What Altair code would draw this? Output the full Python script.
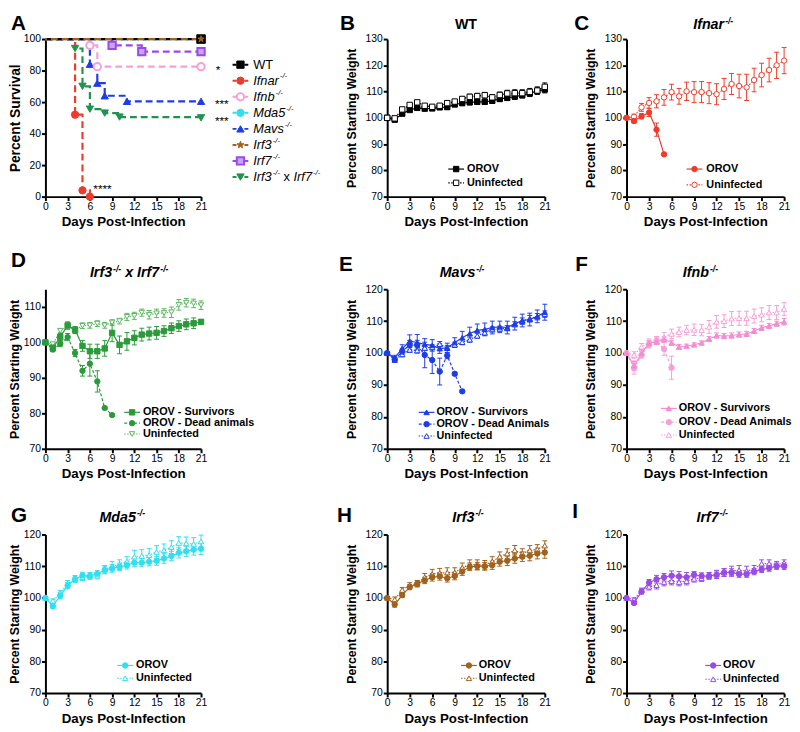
import altair as alt
import pandas as pd

FONT = "Liberation Sans"
DAYS = list(range(22))
X_TICKS = [0, 3, 6, 9, 12, 15, 18, 21]

# ---------------- Panel A : survival ----------------
WT_DAYS = [0, 21]; WT_SURV = [100, 100]
IFNAR_DAYS = [0, 4, 5, 6]; IFNAR_SURV = [100, 52, 4, 0]
IFNB_DAYS = [0, 6, 7, 21]; IFNB_SURV = [100, 96, 82.5, 82.5]
MDA5_DAYS = [0, 21]; MDA5_SURV = [100, 100]
MAVS_DAYS = [0, 6, 7, 8, 11, 21]; MAVS_SURV = [100, 84, 72, 64, 60.5, 60.5]
IRF3_DAYS = [0, 21]; IRF3_SURV = [100, 100]
IRF7_DAYS = [0, 9, 13, 21]; IRF7_SURV = [100, 96, 92, 92]
DKO_DAYS = [0, 4, 5, 6, 8, 10, 21]; DKO_SURV = [100, 94, 70, 55.5, 53, 50.5, 50]

STAR_TEXT = ["*", "***", "***", "****"]
STAR_DAY = [23.3, 23.8, 23.8, 7.7]
STAR_SURV = [82.5, 60.5, 50.0, 7.0]

# ---------------- Weight panels ----------------
B_OROV = [100, 99.3, 101.6, 103.0, 103.8, 103.5, 103.6, 104.0, 104.1, 105.1, 105.6, 105.9, 106.1, 106.1, 106.5, 107.2, 107.6, 108.1, 108.6, 109.3, 110.2, 110.8]
B_OROV_ERR = [0.3, 0.6, 0.6, 0.6, 0.6, 0.7, 0.7, 0.7, 0.7, 0.8, 0.8, 0.9, 0.9, 0.9, 0.9, 1.0, 1.0, 1.0, 1.0, 1.2, 1.2, 1.3]
B_UNINF = [100, 99.8, 103.2, 104.9, 105.9, 104.6, 104.2, 104.6, 105.6, 106.2, 107.2, 108.0, 108.3, 108.6, 107.8, 108.7, 109.3, 109.4, 109.4, 109.9, 110.4, 111.8]
B_UNINF_ERR = [0.3, 0.5, 0.6, 0.6, 0.6, 0.6, 0.7, 0.7, 0.8, 0.8, 0.9, 1.0, 1.0, 1.1, 1.0, 1.1, 1.2, 1.3, 1.3, 1.3, 1.4, 1.5]

C_OROV = [100, 98.8, 100.6, 102.0, 95.5, 86.1]
C_OROV_ERR = [0.3, 0.8, 1.0, 1.5, 2.5, 0.5]
C_UNINF = [100, 100.4, 104.0, 105.7, 106.3, 107.8, 109.8, 108.2, 110.1, 109.8, 109.8, 109.4, 109.0, 111.0, 112.9, 112.1, 111.6, 114.4, 116.3, 118.2, 120.0, 121.8]
C_UNINF_ERR = [0.3, 1.0, 1.5, 2.0, 2.5, 3.0, 3.0, 3.0, 3.5, 4.0, 4.0, 4.0, 4.0, 4.0, 4.0, 4.5, 5.0, 4.5, 4.5, 4.5, 5.0, 5.0]

D_SURV = [100, 98.5, 101.5, 104.8, 103.5, 99.0, 97.5, 97.5, 98.3, 102.7, 99.3, 100.3, 101.3, 102.2, 102.5, 102.7, 103.2, 104.0, 104.6, 105.1, 105.4, 105.8]
D_SURV_ERR = [0.3, 0.8, 1.0, 1.0, 1.0, 1.5, 2.0, 2.0, 2.2, 2.5, 2.5, 2.5, 2.0, 1.8, 1.8, 1.8, 1.5, 1.5, 1.5, 1.5, 1.5, 0.6]
D_DEAD = [100, 98.0, 99.6, 101.5, 97.0, 92.0, 94.0, 89.0, 81.5, 79.5]
D_DEAD_ERR = [0.3, 0.6, 0.8, 1.0, 1.0, 1.5, 3.5, 3.0, 0.4, 0.4]
D_UNINF = [100, 99.5, 103.3, 104.5, 103.5, 104.7, 104.8, 105.3, 104.8, 105.6, 106.0, 107.2, 107.5, 108.4, 107.8, 108.2, 108.3, 108.5, 110.6, 111.2, 111.0, 110.5]
D_UNINF_ERR = [0.3, 0.5, 0.6, 0.8, 0.8, 0.8, 0.8, 0.8, 0.8, 0.8, 0.8, 1.0, 1.0, 1.0, 1.2, 1.2, 1.2, 1.5, 1.5, 1.2, 1.2, 1.2]

E_SURV = [100, 98.5, 101.4, 103.7, 103.3, 102.7, 102.4, 101.4, 101.6, 103.3, 104.8, 106.1, 107.1, 107.4, 108.0, 108.2, 108.0, 109.2, 110.2, 110.5, 111.5, 112.8]
E_SURV_ERR = [0.3, 0.8, 1.2, 2.0, 2.5, 1.8, 1.8, 1.5, 1.5, 1.5, 2.0, 2.0, 2.0, 2.0, 2.0, 1.8, 2.0, 2.0, 2.0, 2.0, 2.0, 2.5]
E_DEAD = [100, 98.0, 100.5, 102.5, 102.5, 99.4, 97.8, 94.2, 99.2, 93.5, 88.0]
E_DEAD_ERR = [0.3, 0.8, 1.0, 1.5, 1.5, 4.0, 4.2, 4.2, 1.0, 0.5, 0.4]
E_UNINF = [100, 97.8, 99.6, 101.0, 100.8, 101.6, 101.8, 102.8, 101.6, 102.6, 103.4, 104.2, 105.4, 106.4, 107.4, 107.6, 107.8, 109.0, 110.0, 110.8, 111.4, 112.2]
E_UNINF_ERR = [0.3, 0.6, 0.8, 0.8, 0.8, 0.8, 0.8, 0.8, 0.8, 0.8, 0.8, 0.8, 0.8, 0.8, 0.8, 0.8, 0.8, 0.8, 1.0, 1.0, 1.0, 1.0]

F_SURV = [100, 96.0, 99.9, 103.1, 103.5, 104.3, 103.2, 101.9, 102.2, 102.6, 103.2, 104.4, 105.5, 105.3, 105.5, 105.8, 106.0, 106.9, 107.9, 108.5, 109.2, 109.8]
F_SURV_ERR = [0.3, 1.5, 1.0, 0.8, 0.8, 0.8, 0.8, 0.8, 0.6, 0.6, 0.6, 0.8, 0.8, 0.8, 0.8, 0.8, 0.8, 0.8, 0.8, 0.8, 0.8, 1.0]
F_DEAD = [100, 95.4, 99.4, 102.6, 103.8, 101.3, 95.4]
F_DEAD_ERR = [0.3, 2.0, 1.0, 1.0, 1.0, 2.0, 3.6]
F_UNINF = [100, 99.4, 102.0, 103.4, 104.0, 104.9, 106.0, 106.6, 107.2, 107.3, 107.2, 108.2, 109.8, 110.0, 110.8, 110.9, 110.9, 111.6, 112.0, 112.7, 112.7, 113.8]
F_UNINF_ERR = [0.3, 1.0, 1.0, 1.0, 1.2, 1.5, 1.5, 1.5, 1.5, 1.8, 1.8, 2.0, 2.0, 2.0, 2.2, 2.2, 2.2, 2.2, 2.2, 2.2, 2.2, 2.0]

G_OROV = [100, 97.4, 100.7, 103.9, 105.9, 107.1, 106.9, 107.6, 108.8, 109.3, 109.8, 110.3, 111.1, 111.1, 111.4, 111.7, 112.4, 113.2, 114.2, 114.7, 115.2, 115.5]
G_OROV_ERR = [0.3, 0.8, 1.0, 1.0, 1.0, 1.0, 1.0, 1.0, 1.2, 1.2, 1.2, 1.2, 1.3, 1.3, 1.3, 1.4, 1.5, 1.5, 1.6, 1.6, 1.7, 1.8]
G_UNINF = [100, 99.1, 101.5, 104.5, 106.0, 106.5, 107.0, 107.0, 109.0, 110.0, 110.5, 111.5, 113.0, 113.2, 113.5, 114.5, 115.0, 116.0, 117.3, 117.2, 117.0, 117.8]
G_UNINF_ERR = [0.3, 0.6, 0.8, 1.0, 1.0, 1.0, 1.0, 1.0, 1.2, 1.5, 1.5, 1.5, 2.0, 2.0, 2.0, 2.0, 2.0, 2.0, 2.0, 2.0, 2.0, 2.0]

H_OROV = [100, 97.9, 100.9, 103.4, 104.5, 105.5, 106.5, 106.8, 106.2, 106.9, 108.3, 109.8, 110.0, 110.0, 110.3, 111.4, 111.7, 112.4, 113.0, 113.3, 114.0, 114.3]
H_OROV_ERR = [0.3, 0.8, 0.8, 0.8, 1.0, 1.0, 1.2, 1.2, 1.2, 1.2, 1.2, 1.2, 1.2, 1.2, 1.3, 1.4, 1.5, 1.5, 1.5, 1.6, 1.7, 1.8]
H_UNINF = [100, 99.5, 102.5, 104.0, 104.5, 106.5, 107.5, 107.8, 108.0, 108.0, 109.5, 110.5, 110.5, 110.3, 111.5, 113.0, 114.0, 115.0, 114.0, 115.0, 115.3, 116.5]
H_UNINF_ERR = [0.3, 0.8, 0.8, 0.8, 1.0, 1.2, 1.5, 1.5, 1.5, 1.5, 1.5, 1.5, 1.5, 1.5, 1.5, 1.5, 1.5, 1.5, 1.5, 1.5, 1.5, 1.5]

I_OROV = [100, 98.4, 102.0, 104.8, 105.9, 106.5, 107.0, 106.8, 106.5, 107.3, 106.9, 106.9, 107.3, 108.0, 108.0, 107.5, 107.5, 108.3, 109.0, 109.4, 110.0, 110.0]
I_OROV_ERR = [0.3, 0.5, 0.8, 1.0, 1.2, 1.2, 1.5, 1.5, 1.5, 1.0, 1.0, 1.0, 1.2, 1.2, 1.2, 1.0, 1.0, 1.0, 1.0, 1.0, 1.0, 1.0]
I_UNINF = [100, 99.5, 102.3, 103.5, 104.0, 105.0, 105.3, 105.0, 105.3, 106.0, 106.2, 107.0, 107.5, 108.0, 108.5, 108.7, 108.5, 109.0, 110.8, 110.8, 110.5, 111.0]
I_UNINF_ERR = [0.3, 0.5, 0.8, 1.0, 1.2, 1.2, 1.2, 1.2, 1.2, 1.0, 1.0, 1.0, 1.2, 1.2, 1.5, 1.5, 1.5, 1.2, 1.2, 1.2, 1.0, 1.0]

# ---------------- colours ----------------
BLACK = "#000000"
RED = "#ee3b2b"
PINK = "#f5a0d9"
PINK_F = "#f28dd2"
CYAN = "#2fe0ee"
BLUE = "#1e3de6"
BROWN = "#a1621d"
PURPLE = "#9a4ae6"
GREEN_A = "#22924f"
GREEN = "#2b9a3b"
GREEN_L = "#5cb860"

STAR_PATH = ("M0,-1L0.235,-0.324L0.951,-0.309L0.38,0.124L0.588,0.809L0,0.4"
             "L-0.588,0.809L-0.38,0.124L-0.951,-0.309L-0.235,-0.324Z")

REG_W = {' ': 278, '-': 333, '/': 278, 'x': 500, 'I': 278, 'f': 278, 'n': 556, 'a': 556,
         'r': 333, 'b': 556, 'M': 833, 'd': 556, '5': 556, 'v': 500, 's': 500, '3': 556,
         '7': 556, 'W': 944, 'T': 611}
BOLD_W = {' ': 278, '-': 333, '/': 278, 'x': 556, 'I': 278, 'f': 333, 'n': 611, 'a': 556,
          'r': 389, 'b': 611, 'M': 833, 'd': 611, '5': 556, 'v': 556, 's': 556, '3': 556,
          '7': 556, 'W': 944, 'T': 611}


def tw(s, size, bold):
    tab = BOLD_W if bold else REG_W
    return sum(tab.get(c, 556) for c in s) * size / 1000.0


def one(v):
    return pd.DataFrame({"t": [v]})


def rich(segments, x, y, size, bold, anchor="center", color="black", sup_scale=0.6):
    items = []
    for text, sup, ital in segments:
        fs = size * sup_scale if sup else size
        lead = len(text) - len(text.lstrip(" "))
        trail = len(text) - len(text.rstrip(" "))
        core = text.strip(" ")
        w = tw(core, fs, bold) + (1.0 if (ital and not sup) else 0.0)
        items.append((core, fs, sup, ital, tw(" " * lead, fs, bold), w, tw(" " * trail, fs, bold)))
    total = sum(a + b + c for (_, _, _, _, a, b, c) in items)
    cx = x - total / 2 if anchor == "center" else x
    out = []
    for core, fs, sup, ital, lw, w, trw in items:
        cx += lw
        yy = y - size * 0.33 if sup else y
        out.append(alt.Chart(one(core)).mark_text(
            align="left", baseline="middle", font=FONT, fontSize=fs,
            fontWeight="bold" if bold else "normal",
            fontStyle="italic" if ital else "normal", color=color
        ).encode(text="t:N", x=alt.value(cx), y=alt.value(yy)))
        cx += w + trw
    return out


def letter(ch, x, y):
    return alt.Chart(one(ch)).mark_text(
        align="left", baseline="top", font=FONT, fontSize=21, fontWeight="bold", color="black"
    ).encode(text="t:N", x=alt.value(x), y=alt.value(y))


def x_axis():
    return alt.Axis(values=X_TICKS, title="Days Post-Infection", labelFlush=False, labelOverlap=False)


def wseries(vals, errs, color, shape, open_, dash, xs, ys, xax, yax, msize=30, lw=1.2):
    days = DAYS[:len(vals)]
    df = pd.DataFrame({"day": days, "v": vals,
                       "lo": [v - e for v, e in zip(vals, errs)],
                       "hi": [v + e for v, e in zip(vals, errs)]})
    base = alt.Chart(df)
    X = alt.X("day:Q", scale=xs, axis=xax)
    Yv = alt.Y("v:Q", scale=ys, axis=yax)
    Ylo = alt.Y("lo:Q", scale=ys, axis=yax)
    Yhi = alt.Y("hi:Q", scale=ys, axis=yax)
    kw = {"color": color, "strokeWidth": lw}
    if dash:
        kw["strokeDash"] = dash
    err = [
        base.mark_rule(color=color, strokeWidth=1).encode(x=X, y=Ylo, y2=alt.Y2("hi:Q")),
        base.mark_tick(color=color, orient="horizontal", size=5, thickness=1, opacity=1).encode(x=X, y=Ylo),
        base.mark_tick(color=color, orient="horizontal", size=5, thickness=1, opacity=1).encode(x=X, y=Yhi),
    ]
    line = [base.mark_line(**kw).encode(x=X, y=Yv)]
    pts = [base.mark_point(shape=shape, filled=True, fill="white" if open_ else color, stroke=color,
                           strokeWidth=1, size=msize, opacity=1).encode(x=X, y=Yv)]
    return err, line, pts


def wlegend(entries, mx, tx, ys, dy):
    out = []
    for (label, color, shape, open_, dash), y in zip(entries, ys):
        y = y + dy
        kw = {"color": color, "strokeWidth": 1.2}
        if dash:
            kw["strokeDash"] = dash
        out.append(alt.Chart(one(label)).mark_rule(**kw).encode(
            x=alt.value(mx - 8), x2=alt.value(mx + 8), y=alt.value(y)))
        out.append(alt.Chart(one(label)).mark_point(
            shape=shape, filled=True, fill="white" if open_ else color, stroke=color,
            strokeWidth=1, size=30, opacity=1).encode(x=alt.value(mx), y=alt.value(y)))
        out.append(alt.Chart(one(label)).mark_text(
            align="left", baseline="middle", font=FONT, fontSize=11, fontWeight="bold", color="black"
        ).encode(text="t:N", x=alt.value(tx), y=alt.value(y)))
    return out


COL1_W = 264
PLOT_W1 = 158
PLOT_W = 160
ROW_H = {1: 160, 2: 169, 3: 161}
ROW_DY = {1: 0, 2: 7, 3: 0}
SOLID = None
DASH = [3, 2]
DOT = [1.5, 1.5]


def weight_panel(col, row, series, legend, ydom, yvals, title_segs, title_xy, let, let_xy,
                 mx, tx, lys):
    dy = ROW_DY[row]
    h = ROW_H[row]
    if col == 1:
        xs = alt.Scale(domain=[0, 21], range=[0, PLOT_W1], nice=False)
        width = COL1_W
        tp = 2
    else:
        xs = alt.Scale(domain=[0, 21], nice=False)
        width = PLOT_W
        tp = 7
    ys = alt.Scale(domain=ydom, range=[h, dy], nice=False)
    xax = x_axis()
    yax = alt.Axis(values=yvals, title="Percent Starting Weight", titlePadding=tp,
                   titleFontSize=12.5, labelFlush=False)
    errs, lines, pts = [], [], []
    for (vals, es, color, shape, open_, dash) in series:
        e, l, p = wseries(vals, es, color, shape, open_, dash, xs, ys, xax, yax)
        errs += e; lines += l; pts += p
    layers = errs + lines + pts
    layers += wlegend(legend, mx, tx, lys, dy)
    layers += rich(title_segs, title_xy[0], title_xy[1] + dy, 14.5, True)
    layers.append(letter(let, let_xy[0], let_xy[1] + dy))
    return alt.layer(*layers).properties(width=width, height=h)


# ---------------- Panel A ----------------
def panel_a():
    xs = alt.Scale(domain=[0, 21], range=[0, PLOT_W1], nice=False)
    ys = alt.Scale(domain=[0, 100], range=[160, 0], nice=False)
    xax = x_axis()
    yax = alt.Axis(values=[0, 20, 40, 60, 80, 100], title="Percent Survival", titlePadding=1,
                   titleFontSize=14, labelFlush=False)
    groups = [
        (DKO_DAYS, DKO_SURV, GREEN_A, "triangle-down", GREEN_A, 1, 55, 0),
        (IRF7_DAYS, IRF7_SURV, PURPLE, "square", "#c9a3f3", 2, 55, 0),
        (MAVS_DAYS, MAVS_SURV, BLUE, "triangle-up", BLUE, 1, 55, 0),
        (IFNB_DAYS, IFNB_SURV, PINK, "circle", "white", 2, 55, 0),
        (IFNAR_DAYS, IFNAR_SURV, RED, "circle", RED, 1, 55, 0),
        (MDA5_DAYS, MDA5_SURV, CYAN, "circle", CYAN, 1, 30, 3),
        (WT_DAYS, WT_SURV, BLACK, "square", BLACK, 1, 75, 0),
        (IRF3_DAYS, IRF3_SURV, BROWN, STAR_PATH, BROWN, 1, 45, 5.5),
    ]
    lines, pts = [], []
    for days, surv, color, shape, fill, sw, size, off in groups:
        df = pd.DataFrame({"day": days, "s": surv})
        X = alt.X("day:Q", scale=xs, axis=xax)
        Y = alt.Y("s:Q", scale=ys, axis=yax)
        lines.append(alt.Chart(df).mark_line(
            interpolate="step-after", color=color, strokeWidth=2.2, strokeDash=[7, 4],
            strokeDashOffset=off).encode(x=X, y=Y))
        pts.append(alt.Chart(df[df["day"] > 0]).mark_point(
            shape=shape, filled=True, fill=fill, stroke=color, strokeWidth=sw, size=size,
            opacity=1).encode(x=X, y=Y))
    sdf = pd.DataFrame({"t": STAR_TEXT, "day": STAR_DAY, "s": STAR_SURV})
    stars = alt.Chart(sdf).mark_text(
        align="center", baseline="middle", dy=3, font=FONT, fontSize=12, color="black"
    ).encode(text="t:N", x=alt.X("day:Q", scale=xs, axis=xax), y=alt.Y("s:Q", scale=ys, axis=yax))

    leg = [
        ("WT", BLACK, "square", BLACK, 1, [("WT", False, False)]),
        ("Ifnar", RED, "circle", RED, 1, [("Ifnar", False, True), ("-/-", True, True)]),
        ("Ifnb", PINK, "circle", "white", 2, [("Ifnb", False, True), ("-/-", True, True)]),
        ("Mda5", CYAN, "circle", CYAN, 1, [("Mda5", False, True), ("-/-", True, True)]),
        ("Mavs", BLUE, "triangle-up", BLUE, 1, [("Mavs", False, True), ("-/-", True, True)]),
        ("Irf3", BROWN, STAR_PATH, BROWN, 1, [("Irf3", False, True), ("-/-", True, True)]),
        ("Irf7", PURPLE, "square", "#c9a3f3", 2, [("Irf7", False, True), ("-/-", True, True)]),
        ("DKO", GREEN_A, "triangle-down", GREEN_A, 1,
         [("Irf3", False, True), ("-/-", True, True), (" x ", False, False),
          ("Irf7", False, True), ("-/-", True, True)]),
    ]
    legl = []
    for i, (k, color, shape, fill, sw, segs) in enumerate(leg):
        y = 26 + 16.3 * i
        legl.append(alt.Chart(one(k)).mark_rule(color=color, strokeWidth=2, strokeDash=[4, 2]).encode(
            x=alt.value(190), x2=alt.value(206), y=alt.value(y)))
        legl.append(alt.Chart(one(k)).mark_point(
            shape=shape, filled=True, fill=fill, stroke=color, strokeWidth=sw, size=55, opacity=1
        ).encode(x=alt.value(198), y=alt.value(y)))
        legl += rich(segs, 211, y, 13, False, anchor="left")
    layers = lines + pts + [stars] + legl + [letter("A", -35, -26)]
    return alt.layer(*layers).properties(width=COL1_W, height=160)


SUP = ("-/-", True, True)

pa = panel_a()
pb = weight_panel(
    2, 1,
    [(B_OROV, B_OROV_ERR, BLACK, "square", False, SOLID),
     (B_UNINF, B_UNINF_ERR, BLACK, "square", True, DOT)],
    [("OROV", BLACK, "square", False, SOLID), ("Uninfected", BLACK, "square", True, DOT)],
    [70, 130], [70, 80, 90, 100, 110, 120, 130],
    [("WT", False, False)], (80, -14), "B", (-48, -26), 70, 81, [132, 146])
pc = weight_panel(
    3, 1,
    [(C_UNINF, C_UNINF_ERR, RED, "circle", True, DOT),
     (C_OROV, C_OROV_ERR, RED, "circle", False, SOLID)],
    [("OROV", RED, "circle", False, SOLID), ("Uninfected", RED, "circle", True, DOT)],
    [70, 130], [70, 80, 90, 100, 110, 120, 130],
    [("Ifnar", False, True), SUP], (88, -14), "C", (-53, -26), 69, 81, [132, 148])
pd_ = weight_panel(
    1, 2,
    [(D_UNINF, D_UNINF_ERR, GREEN_L, "triangle-down", True, DOT),
     (D_DEAD, D_DEAD_ERR, GREEN, "circle", False, DASH),
     (D_SURV, D_SURV_ERR, GREEN, "square", False, SOLID)],
    [("OROV - Survivors", GREEN, "square", False, SOLID),
     ("OROV - Dead animals", GREEN, "circle", False, DASH),
     ("Uninfected", GREEN_L, "triangle-down", True, DOT)],
    [70, 115], [70, 80, 90, 100, 110],
    [("Irf3", False, True), SUP, (" x Irf7", False, True), SUP], (85, -16), "D", (-35, -40),
    88, 99, [125, 136, 147])
pe = weight_panel(
    2, 2,
    [(E_UNINF, E_UNINF_ERR, BLUE, "triangle-up", True, DOT),
     (E_DEAD, E_DEAD_ERR, BLUE, "circle", False, DASH),
     (E_SURV, E_SURV_ERR, BLUE, "triangle-up", False, SOLID)],
    [("OROV - Survivors", BLUE, "triangle-up", False, SOLID),
     ("OROV - Dead Animals", BLUE, "circle", False, DASH),
     ("Uninfected", BLUE, "triangle-up", True, DOT)],
    [70, 120], [70, 80, 90, 100, 110, 120],
    [("Mavs", False, True), SUP], (76, -16), "E", (-49, -35), 40, 50, [125, 137, 149])
pf = weight_panel(
    3, 2,
    [(F_UNINF, F_UNINF_ERR, PINK, "triangle-up", True, DOT),
     (F_DEAD, F_DEAD_ERR, PINK, "circle", False, DASH),
     (F_SURV, F_SURV_ERR, PINK_F, "triangle-up", False, SOLID)],
    [("OROV - Survivors", PINK_F, "triangle-up", False, SOLID),
     ("OROV - Dead Animals", PINK, "circle", False, DASH),
     ("Uninfected", PINK, "triangle-up", True, DOT)],
    [70, 120], [70, 80, 90, 100, 110, 120],
    [("Ifnb", False, True), SUP], (75, -16), "F", (-52, -35), 43, 53, [121, 135, 148])
pg = weight_panel(
    1, 3,
    [(G_UNINF, G_UNINF_ERR, CYAN, "triangle-up", True, DOT),
     (G_OROV, G_OROV_ERR, CYAN, "circle", False, SOLID)],
    [("OROV", CYAN, "circle", False, SOLID), ("Uninfected", CYAN, "triangle-up", True, DOT)],
    [70, 120], [70, 80, 90, 100, 110, 120],
    [("Mda5", False, True), SUP], (78, -17), "G", (-35, -30), 81, 92, [133, 146])
ph = weight_panel(
    2, 3,
    [(H_UNINF, H_UNINF_ERR, BROWN, "triangle-up", True, DOT),
     (H_OROV, H_OROV_ERR, BROWN, "circle", False, SOLID)],
    [("OROV", BROWN, "circle", False, SOLID), ("Uninfected", BROWN, "triangle-up", True, DOT)],
    [70, 120], [70, 80, 90, 100, 110, 120],
    [("Irf3", False, True), SUP], (82, -17), "H", (-51, -30), 83, 93, [133, 146])
pi = weight_panel(
    3, 3,
    [(I_UNINF, I_UNINF_ERR, PURPLE, "triangle-up", True, DOT),
     (I_OROV, I_OROV_ERR, PURPLE, "circle", False, SOLID)],
    [("OROV", PURPLE, "circle", False, SOLID), ("Uninfected", PURPLE, "triangle-up", True, DOT)],
    [70, 120], [70, 80, 90, 100, 110, 120],
    [("Irf7", False, True), SUP], (87, -17), "I", (-55, -34), 88, 98, [133, 147])

chart = alt.concat(
    pa, pb, pc, pd_, pe, pf, pg, ph, pi,
    columns=3, spacing={"row": 87, "column": 83}, bounds="flush"
).properties(padding=0, background="white").configure_view(stroke=None).configure_axis(
    domainColor="black", domainWidth=2, tickColor="black", tickWidth=2, tickSize=4,
    labelColor="black", labelFont=FONT, labelFontSize=10.5, labelPadding=1,
    titleFont=FONT, titleFontSize=13, titleFontWeight="bold", titleColor="black", grid=False
).configure_axisX(titlePadding=3, titleFontSize=13.5)

chart.save("out.html", embed_options={"renderer": "svg", "actions": False})
